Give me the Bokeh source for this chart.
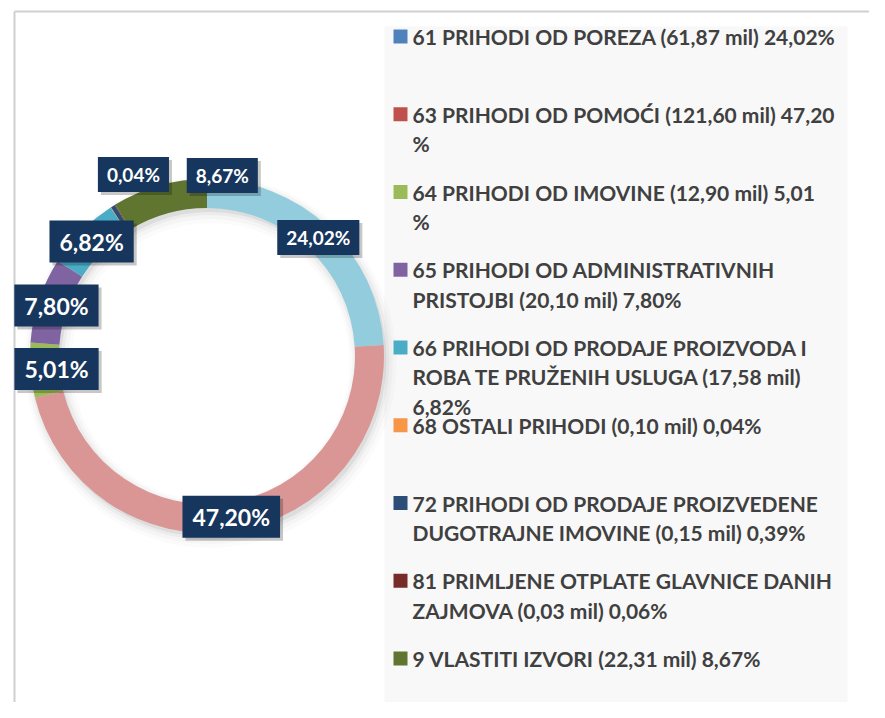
import numpy as np
from bokeh.plotting import figure
from bokeh.models import ColumnDataSource, Range1d
from bokeh.core.properties import value
from bokeh.embed import file_html
from bokeh.resources import INLINE

# ---------------- data ----------------
codes = ["61", "63", "64", "65", "66", "68", "72", "81", "9"]
legend_labels = [
    "61 PRIHODI OD POREZA (61,87 mil) 24,02%",
    "63 PRIHODI OD POMOĆI (121,60 mil) 47,20\n%",
    "64 PRIHODI OD IMOVINE (12,90 mil) 5,01\n%",
    "65 PRIHODI OD ADMINISTRATIVNIH\nPRISTOJBI (20,10 mil) 7,80%",
    "66 PRIHODI OD PRODAJE PROIZVODA I\nROBA TE PRUŽENIH USLUGA (17,58 mil)\n6,82%",
    "68 OSTALI PRIHODI (0,10 mil) 0,04%",
    "72 PRIHODI OD PRODAJE PROIZVEDENE\nDUGOTRAJNE IMOVINE (0,15 mil) 0,39%",
    "81 PRIMLJENE OTPLATE GLAVNICE DANIH\nZAJMOVA (0,03 mil) 0,06%",
    "9 VLASTITI IZVORI (22,31 mil) 8,67%",
]
percent = [24.02, 47.20, 5.01, 7.80, 6.82, 0.04, 0.39, 0.06, 8.67]
show_label = [True, True, True, True, True, True, False, False, True]
big_label = [False, True, True, True, True, False, False, False, False]

ring_colors = ["#93CDDD", "#D99694", "#9BBB59", "#8064A2", "#4BACC6",
               "#F79646", "#2C4D75", "#772C2A", "#5F7530"]
legend_colors = ["#4F81BD", "#C0504D", "#9BBB59", "#8064A2", "#4BACC6",
                 "#F79646", "#2C4D75", "#772C2A", "#5F7530"]

# ---------------- layout ----------------
W, H = 869, 702
PAGE_H = 718
def Y(sy):
    return PAGE_H - sy

CX, CY = 206.5, Y(355.5)
R_IN, R_OUT = 148, 177
R_MID = (R_IN + R_OUT) / 2
# manual label nudges (screen px: dx, dy)
nudge = {"64": (11.5, 0), "65": (3.6, 1), "68": (14.7, -45), "9": (59, -24)}

p = figure(width=W, height=H, output_backend="svg", toolbar_location=None,
           x_range=Range1d(0, W), y_range=Range1d(PAGE_H - H, PAGE_H),
           min_border=0)
p.axis.visible = False
p.grid.visible = False
p.outline_line_color = None
p.background_fill_color = "white"
p.border_fill_color = "white"

# frame lines
p.segment(x0=[14, 14], y0=[Y(11), Y(11)], x1=[900, 14], y1=[Y(11), Y(730)],
          line_color="#D0D0D0", line_width=2)

# legend background
p.quad(left=[384], right=[847], top=[Y(26)], bottom=[Y(730)],
       fill_color="#F8F8F8", line_color=None)

# ring shadow (soft, offset down-right)
for off, grow, a in [(4, 0, 0.06), (4, 3, 0.035), (5, 6, 0.025), (6, 9, 0.015)]:
    p.annular_wedge(x=CX + off * 0.6, y=CY - off, inner_radius=R_IN - grow,
                    outer_radius=R_OUT + grow, start_angle=0, end_angle=2 * np.pi,
                    fill_color="#000000", fill_alpha=a, line_color=None)

# ring
pct = np.array(percent)
frac = pct / pct.sum()
cum0 = np.concatenate([[0], np.cumsum(frac)[:-1]])
cum1 = cum0 + frac
ring = ColumnDataSource(dict(
    start=np.pi / 2 - 2 * np.pi * cum0,
    end=np.pi / 2 - 2 * np.pi * cum1,
    color=ring_colors,
))
p.annular_wedge(x=CX, y=CY, inner_radius=R_IN, outer_radius=R_OUT,
                start_angle="start", end_angle="end", direction="clock",
                fill_color="color", line_color=None, source=ring)

# data labels
mid = (cum0 + cum1) / 2
theta = np.pi / 2 - 2 * np.pi * mid
for big in (False, True):
    xs, ys, ts = [], [], []
    for i, c in enumerate(codes):
        if not show_label[i] or big_label[i] != big:
            continue
        dx, dy = nudge.get(c, (0, 0))
        xs.append(CX + R_MID * np.cos(theta[i]) + dx)
        ys.append(CY + R_MID * np.sin(theta[i]) - dy)
        ts.append(f"{percent[i]:.2f}%".replace(".", ","))
    fs = "23px" if big else "19px"
    pad = (10, 7) if big else (9, 6)
    # shadow
    p.text(x=[x + 3 for x in xs], y=[y - 3 for y in ys], text=ts,
           text_align="center", text_baseline="middle",
           text_font=value("Lato"), text_font_style="bold", text_font_size=fs,
           text_alpha=0, background_fill_color="#000000", background_fill_alpha=0.22,
           padding=pad)
    p.text(x=xs, y=ys, text=ts, text_align="center", text_baseline="middle",
           text_font=value("Lato"), text_font_style="bold", text_font_size=fs,
           text_color="white", background_fill_color="#17365D", padding=pad)

# legend
LEG_Y0, LEG_STEP, LINE_STEP = 36, 77.75, 29.3
SQ_X, TXT_X, SQ = 400, 412, 14
sq_x, sq_y, lx, ly, lt = [], [], [], [], []
for i, lab in enumerate(legend_labels):
    y0 = LEG_Y0 + i * LEG_STEP
    sq_x.append(SQ_X)
    sq_y.append(Y(y0))
    for j, line in enumerate(lab.split("\n")):
        lx.append(TXT_X)
        ly.append(Y(y0 + j * LINE_STEP))
        lt.append(line)
p.rect(x=sq_x, y=sq_y, width=SQ, height=SQ, fill_color=legend_colors, line_color=None)
p.text(x=lx, y=ly, text=lt, text_align="left", text_baseline="middle",
       text_font=value("Lato"), text_font_style="bold", text_font_size="21px",
       text_color="#404040")

open("out.html", "w").write(file_html(p, INLINE))
